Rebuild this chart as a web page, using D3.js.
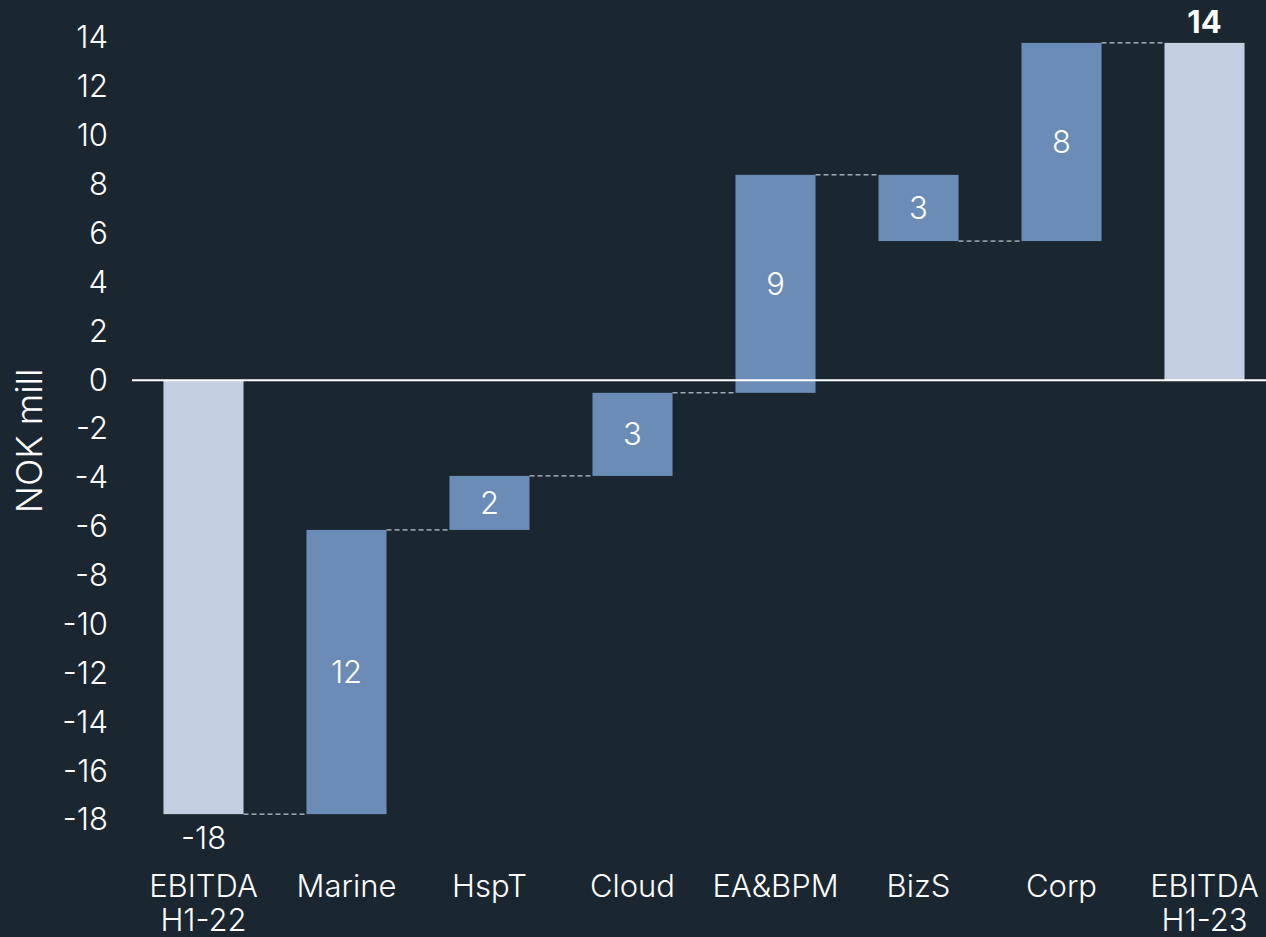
<!doctype html>
<html lang="en">
<head>
<meta charset="UTF-8">
<title>EBITDA bridge</title>
<style>
  html, body { margin: 0; padding: 0; background: #1a2730; }
  svg text { font-family: Inter, "Noto Sans", sans-serif; fill: #ffffff; }
</style>
</head>
<body>
<div class="container"></div>

<script src="https://d3js.org/d3.v7.min.js"></script>
<script>
  const SVG_WIDTH = 1266;
  const SVG_HEIGHT = 937;

  // data
  const categories = ['EBITDA\nH1-22', 'Marine', 'HspT', 'Cloud', 'EA&BPM', 'BizS', 'Corp', 'EBITDA\nH1-23'];
  const changes = [-17.76, 11.63, 2.21, 3.40, 8.92, -2.71, 8.11, 13.80];
  const isTotal = [true, false, false, false, false, false, false, true];
  const valueLabels = ['-18', '12', '2', '3', '9', '3', '8', '14'];
  const yTicks = [14, 12, 10, 8, 6, 4, 2, 0, -2, -4, -6, -8, -10, -12, -14, -16, -18];

  const FONT = '31px';

  const svg = d3.select('.container')
    .append('svg')
    .attr('width', SVG_WIDTH)
    .attr('height', SVG_HEIGHT);

  const x = d3.scaleBand()
    .domain(categories)
    .range([132, 1276])
    .paddingInner(0.44)
    .paddingOuter(0.22);

  const y = d3.scaleLinear()
    .domain([-18, 14])
    .range([820, 38]);

  // build waterfall steps
  let running = 0;
  const bars = categories.map((c, i) => {
    let start, end;
    if (isTotal[i]) {
      start = 0;
      end = changes[i];
      running = changes[i];
    } else {
      start = running;
      end = running + changes[i];
      running = end;
    }
    return { cat: c, start, end, total: isTotal[i], label: valueLabels[i] };
  });

  // y axis
  const yAxis = d3.axisLeft(y)
    .tickValues(yTicks)
    .tickSize(0)
    .tickPadding(0)
    .tickFormat(d => String(d)); // plain hyphen, not unicode minus
  const yAxisGroup = svg.append('g')
    .attr('transform', 'translate(108, 0)')
    .call(yAxis);
  yAxisGroup.select('.domain').remove();
  yAxisGroup.selectAll('text')
    .style('font-size', FONT)
    .style('font-weight', 300)
    .attr('fill', '#ffffff');

  svg.append('text')
    .attr('transform', `translate(42, 441) rotate(-90)`)
    .attr('text-anchor', 'middle')
    .style('font-size', '36px')
    .style('font-weight', 300)
    .text('NOK mill');

  // connectors
  const connectors = bars.slice(0, -1).map((b, i) => ({ from: b, to: bars[i + 1], level: b.end }));
  svg.selectAll('line.conn')
    .data(connectors)
    .enter().append('line')
    .attr('class', 'conn')
    .attr('x1', d => x(d.from.cat) + x.bandwidth())
    .attr('x2', d => x(d.to.cat))
    .attr('y1', d => y(d.level))
    .attr('y2', d => y(d.level))
    .attr('stroke', '#e8ecf2')
    .attr('stroke-width', 1)
    .attr('stroke-dasharray', '5,3');

  // bars
  svg.selectAll('rect.bar')
    .data(bars)
    .enter().append('rect')
    .attr('class', 'bar')
    .attr('x', d => x(d.cat))
    .attr('width', x.bandwidth())
    .attr('y', d => y(Math.max(d.start, d.end)))
    .attr('height', d => Math.abs(y(d.start) - y(d.end)))
    .attr('fill', d => d.total ? '#c3cfe0' : '#6c8cb8');

  // zero line
  svg.append('line')
    .attr('x1', 132)
    .attr('x2', SVG_WIDTH)
    .attr('y1', y(0))
    .attr('y2', y(0))
    .attr('stroke', '#ffffff')
    .attr('stroke-width', 2);

  // value labels
  svg.selectAll('text.val')
    .data(bars)
    .enter().append('text')
    .attr('class', 'val')
    .attr('x', d => x(d.cat) + x.bandwidth() / 2)
    .attr('y', d => {
      if (d.total && d.end < 0) return y(d.end) + 24;
      if (d.total) return y(d.end) - 21;
      return y((d.start + d.end) / 2);
    })
    .attr('dy', '0.35em')
    .attr('text-anchor', 'middle')
    .style('font-size', FONT)
    .style('font-weight', d => d.total && d.end > 0 ? 700 : 300)
    .text(d => d.label);

  // category labels
  const catG = svg.selectAll('text.cat')
    .data(categories)
    .enter().append('text')
    .attr('class', 'cat')
    .attr('text-anchor', 'middle')
    .attr('x', d => x(d) + x.bandwidth() / 2)
    .attr('y', 886)
    .style('font-size', FONT)
    .style('font-weight', 300);
  catG.each(function (d) {
    const lines = d.split('\n');
    const t = d3.select(this);
    lines.forEach((ln, i) => {
      t.append('tspan')
        .attr('x', x(d) + x.bandwidth() / 2)
        .attr('dy', i === 0 ? '0.35em' : '34px')
        .text(ln);
    });
  });
</script>
</body>
</html>
